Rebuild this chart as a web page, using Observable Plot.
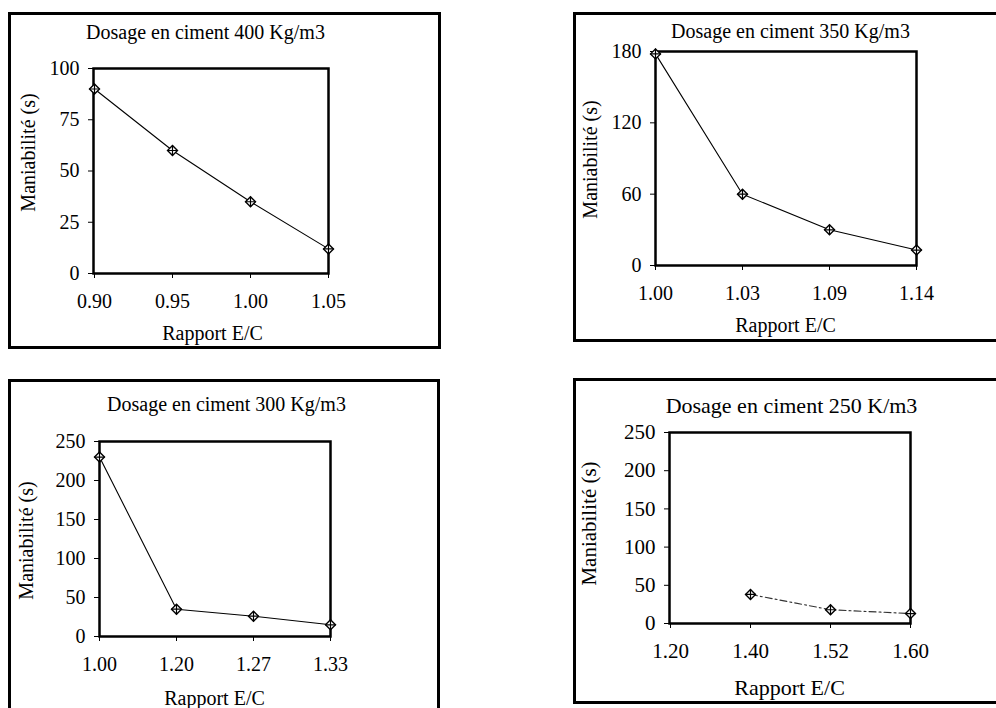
<!DOCTYPE html>
<html>
<head>
<meta charset="utf-8">
<script src="https://cdn.jsdelivr.net/npm/d3@7"></script>
<script src="https://cdn.jsdelivr.net/npm/@observablehq/plot@0.6"></script>
<style>
  html, body { margin: 0; padding: 0; background: #fff; }
  #page { position: relative; width: 996px; height: 708px; overflow: hidden; background: #fff; }
  .box { position: absolute; border: 3px solid #000; box-sizing: border-box; }
  .plotwrap { position: absolute; }
  .plotwrap svg { overflow: visible; }
</style>
</head>
<body>
<div id="page"></div>
<script>
// ---- Data ----
const ratios400 = ["0.90", "0.95", "1.00", "1.05"];
const workability400 = [90, 60, 35, 12];
const yTicks400 = [0, 25, 50, 75, 100];

const ratios350 = ["1.00", "1.03", "1.09", "1.14"];
const workability350 = [178, 60, 30, 13];
const yTicks350 = [0, 60, 120, 180];

const ratios300 = ["1.00", "1.20", "1.27", "1.33"];
const workability300 = [230, 35, 26, 15];
const yTicks300 = [0, 50, 100, 150, 200, 250];

const ratios250 = ["1.20", "1.40", "1.52", "1.60"];
const workability250 = [null, 38, 18, 13];
const yTicks250 = [0, 50, 100, 150, 200, 250];

const titles = [
  "Dosage en ciment 400 Kg/m3",
  "Dosage en ciment 350 Kg/m3",
  "Dosage en ciment 300 Kg/m3",
  "Dosage en ciment 250 K/m3"
];
const xLabel = "Rapport E/C";
const yLabel = "Maniabilité (s)";

// ---- Layout (page coordinates) ----
const panels = [
  {ratios: ratios400, values: workability400, yTicks: yTicks400, title: titles[0],
   box: [8, 12, 441, 349], plot: [93, 68, 328, 273], fs: 20, tfs: 20,
   titlePos: [205, 32], xLabPos: [212, 333], yLabPos: [28, 152], yLabSpacing: 2, dashed: false},
  {ratios: ratios350, values: workability350, yTicks: yTicks350, title: titles[1],
   box: [573, 12, 1005, 342], plot: [655, 51, 916, 265], fs: 20, tfs: 20,
   titlePos: [790, 31], xLabPos: [785, 325], yLabPos: [590, 159], yLabSpacing: 0, dashed: false},
  {ratios: ratios300, values: workability300, yTicks: yTicks300, title: titles[2],
   box: [8, 379, 440, 720], plot: [99, 441, 330, 636], fs: 20, tfs: 20,
   titlePos: [226, 404], xLabPos: [214, 698], yLabPos: [26, 540], yLabSpacing: 0, dashed: false},
  {ratios: ratios250, values: workability250, yTicks: yTicks250, title: titles[3],
   box: [573, 378, 1005, 704], plot: [669, 432, 910, 623], fs: 21, tfs: 22,
   titlePos: [791, 405], xLabPos: [789, 687], yLabPos: [589, 523], yLabSpacing: 0, dashed: true}
];

const page = document.getElementById("page");
const mL = 100, mR = 40, mT = 60, mB = 90;

for (const p of panels) {
  const [bx0, by0, bx1, by1] = p.box;
  const box = document.createElement("div");
  box.className = "box";
  Object.assign(box.style, {left: bx0 + "px", top: by0 + "px", width: (bx1 - bx0) + "px", height: (by1 - by0) + "px"});
  page.appendChild(box);

  const [px0, py0, px1, py1] = p.plot;
  const data = p.ratios.map((r, i) => ({ratio: r, value: p.values[i]})).filter(d => d.value != null);
  const rel = ([ax, ay]) => ({dx: ax - px0, dy: ay - py0});

  const chart = Plot.plot({
    width: px1 - px0 + mL + mR,
    height: py1 - py0 + mT + mB,
    marginLeft: mL, marginRight: mR, marginTop: mT, marginBottom: mB,
    style: {fontFamily: "'Liberation Serif', 'DejaVu Serif', serif", fontSize: p.fs + "px", color: "#000", background: "transparent"},
    x: {type: "point", domain: p.ratios, padding: 0, label: null, tickSize: 5, tickPadding: 15},
    y: {domain: [0, d3.max(p.yTicks)], ticks: p.yTicks, label: null, tickSize: 5, tickPadding: 9, nice: false},
    marks: [
      Plot.frame({stroke: "#000", strokeWidth: 2.5}),
      Plot.line(data, {x: "ratio", y: "value", stroke: p.dashed ? "#333" : "#000", strokeWidth: 1.1,
        strokeDasharray: p.dashed ? "7,3,2,3" : null}),
      Plot.dot(data, {x: "ratio", y: "value", symbol: "diamond2", r: 4.5, stroke: "#000", fill: "#fff", strokeWidth: 1.4}),
      Plot.dot(data, {x: "ratio", y: "value", symbol: "plus", r: 3.5, stroke: "#000", strokeWidth: 1.2}),
      Plot.text([p.title], {frameAnchor: "top-left", text: d => d, ...rel(p.titlePos), lineAnchor: "middle", textAnchor: "middle", fontSize: p.tfs}),
      Plot.text([xLabel], {frameAnchor: "top-left", text: d => d, ...rel(p.xLabPos), lineAnchor: "middle", textAnchor: "middle", fontSize: p.tfs}),
      Plot.text([yLabel], {frameAnchor: "top-left", text: d => d, ...rel(p.yLabPos), lineAnchor: "middle", textAnchor: "middle", rotate: -90, fontSize: p.fs,
        letterSpacing: p.yLabSpacing + "px"})
    ]
  });
  const wrap = document.createElement("div");
  wrap.className = "plotwrap";
  Object.assign(wrap.style, {left: (px0 - mL) + "px", top: (py0 - mT) + "px"});
  wrap.appendChild(chart);
  page.appendChild(wrap);
}
</script>
</body>
</html>
